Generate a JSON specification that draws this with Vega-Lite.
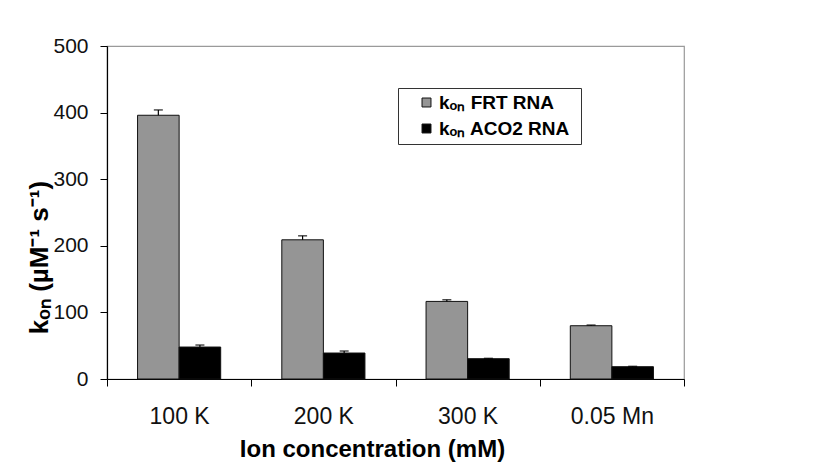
{
  "$schema": "https://vega.github.io/schema/vega-lite/v6.json",
  "autosize": {"type": "none"},
  "width": 577,
  "height": 333,
  "padding": {"left": 107, "top": 46, "right": 143, "bottom": 90},
  "background": "white",
  "config": {
    "font": "Liberation Sans",
    "view": {"stroke": "#9a9a9a", "strokeWidth": 1.2}
  },
  "data": {
    "values": [
      {"ion": "100 K", "rna": "kₒₙ  FRT RNA", "kon": 396, "upper": 404},
      {"ion": "100 K", "rna": "kₒₙ  ACO2 RNA", "kon": 48, "upper": 51},
      {"ion": "200 K", "rna": "kₒₙ  FRT RNA", "kon": 209, "upper": 215},
      {"ion": "200 K", "rna": "kₒₙ  ACO2 RNA", "kon": 39, "upper": 42},
      {"ion": "300 K", "rna": "kₒₙ  FRT RNA", "kon": 116.5, "upper": 119},
      {"ion": "300 K", "rna": "kₒₙ  ACO2 RNA", "kon": 30.5, "upper": 31},
      {"ion": "0.05 Mn", "rna": "kₒₙ  FRT RNA", "kon": 80, "upper": 81},
      {"ion": "0.05 Mn", "rna": "kₒₙ  ACO2 RNA", "kon": 18.5, "upper": 19}
    ]
  },
  "encoding": {
    "x": {
      "field": "ion",
      "type": "nominal",
      "sort": ["100 K", "200 K", "300 K", "0.05 Mn"],
      "scale": {"paddingInner": 0, "paddingOuter": 0},
      "axis": {
        "title": "Ion concentration (mM)",
        "labelAngle": 0,
        "labelFontSize": 23,
        "labelColor": "#111",
        "labelPadding": 19,
        "tickBand": "extent",
        "tickSize": 7,
        "tickColor": "#000",
        "domainColor": "#000",
        "domainWidth": 1.2,
        "titleFontSize": 24,
        "titleFontWeight": "bold",
        "titleColor": "#000",
        "titleX": 265,
        "titleY": 58,
        "titleBaseline": "top",
        "titleAnchor": null
      }
    },
    "xOffset": {
      "field": "rna",
      "type": "nominal",
      "sort": ["kₒₙ  FRT RNA", "kₒₙ  ACO2 RNA"],
      "scale": {"paddingInner": 0, "paddingOuter": 0.735}
    }
  },
  "layer": [
    {
      "mark": {"type": "bar", "stroke": "#111", "strokeWidth": 1},
      "encoding": {
        "y": {
          "field": "kon",
          "type": "quantitative",
          "scale": {"domain": [0, 500], "nice": false},
          "axis": {
            "title": "kₒₙ (µM⁻¹ s⁻¹)",
            "values": [0, 100, 200, 300, 400, 500],
            "grid": false,
            "labelFontSize": 21,
            "labelColor": "#111",
            "labelPadding": 12,
            "tickSize": 7,
            "tickColor": "#000",
            "domainColor": "#000",
            "domainWidth": 1.2,
            "titleFontSize": 26,
            "titleFontWeight": "bold",
            "titleColor": "#000",
            "titleAngle": -90,
            "titleX": -60,
            "titleY": 211,
            "titleAlign": "center",
            "titleBaseline": "alphabetic",
            "titleAnchor": null
          }
        },
        "color": {
          "field": "rna",
          "type": "nominal",
          "sort": ["kₒₙ  FRT RNA", "kₒₙ  ACO2 RNA"],
          "scale": {"range": ["#959595", "#000000"]},
          "legend": {
            "title": null,
            "orient": "none",
            "legendX": 291,
            "legendY": 42,
            "strokeColor": "#333",
            "padding": 5,
            "symbolType": "square",
            "symbolSize": 80,
            "symbolOffset": 14,
            "symbolStrokeColor": "#111",
            "symbolStrokeWidth": 1,
            "labelFontSize": 19,
            "labelFontWeight": "bold",
            "labelColor": "#000",
            "labelOffset": 3,
            "rowPadding": 6
          }
        }
      }
    },
    {
      "mark": {"type": "rule", "color": "#000", "strokeWidth": 1.2},
      "encoding": {
        "y": {"field": "kon", "type": "quantitative"},
        "y2": {"field": "upper"}
      }
    },
    {
      "mark": {"type": "tick", "color": "#000", "thickness": 1.5, "size": 9},
      "encoding": {
        "y": {"field": "upper", "type": "quantitative"}
      }
    }
  ]
}
